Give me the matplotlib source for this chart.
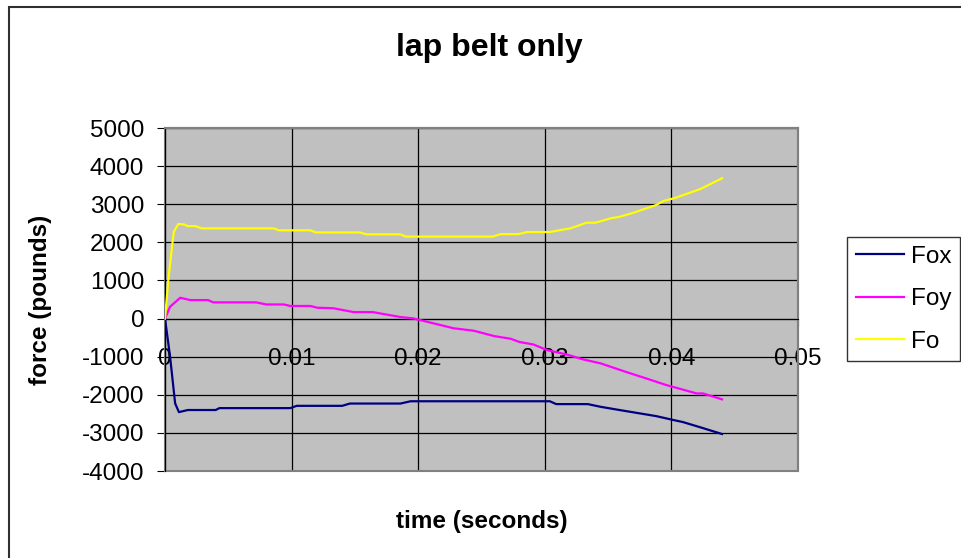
import matplotlib
matplotlib.use("Agg")
import matplotlib.pyplot as plt
from matplotlib.patches import Rectangle

# ======================================================
# DATA
# ======================================================

t_fox = [0, 0.0004, 0.0006, 0.0008, 0.0011, 0.0018, 0.0040, 0.0043, 0.0099, 0.0104,
         0.0140, 0.0146, 0.0186, 0.0194, 0.0304, 0.0309, 0.0334, 0.0344, 0.0359,
         0.0388, 0.0402, 0.0409, 0.0423, 0.0440]
fox = [0, -1000, -1610, -2225, -2455, -2400, -2400, -2350, -2350, -2290,
       -2290, -2230, -2230, -2170, -2170, -2245, -2245, -2315, -2400,
       -2560, -2665, -2715, -2855, -3030]

t_foy = [0, 0.0004, 0.0012, 0.0020, 0.0034, 0.0038, 0.0072, 0.0080, 0.0094, 0.0099,
         0.0115, 0.0120, 0.0133, 0.0149, 0.0164, 0.0186, 0.0196, 0.0212, 0.0228,
         0.0244, 0.0260, 0.0273, 0.0280, 0.0291, 0.0302, 0.0317, 0.0330, 0.0344,
         0.0365, 0.0380, 0.0396, 0.0420, 0.0425, 0.0440]
foy = [0, 310, 545, 485, 485, 425, 425, 370, 370, 330,
       330, 285, 270, 170, 170, 40, 5, -125, -255,
       -320, -460, -530, -615, -680, -830, -940, -1070, -1175,
       -1410, -1570, -1745, -1965, -1965, -2120]

t_fo = [0, 0.00026, 0.0006, 0.0007, 0.00105, 0.0015, 0.0018, 0.0024, 0.0029, 0.0086,
        0.0090, 0.0115, 0.0119, 0.0154, 0.0159, 0.0186, 0.0190, 0.0259, 0.0265,
        0.0279, 0.0286, 0.0304, 0.0312, 0.0320, 0.0333, 0.0340, 0.0352, 0.0359,
        0.0370, 0.0388, 0.0394, 0.0402, 0.0423, 0.0440]
fo = [0, 1010, 2015, 2280, 2480, 2470, 2425, 2425, 2365, 2365,
      2315, 2315, 2260, 2260, 2210, 2210, 2150, 2150, 2215,
      2215, 2270, 2270, 2320, 2365, 2515, 2515, 2630, 2670,
      2775, 2980, 3090, 3155, 3400, 3680]

x_ticks = [0, 0.01, 0.02, 0.03, 0.04, 0.05]
x_labels = ["0", "0.01", "0.02", "0.03", "0.04", "0.05"]
y_ticks = [5000, 4000, 3000, 2000, 1000, 0, -1000, -2000, -3000, -4000]

# ======================================================
# PLOT
# ======================================================

plt.rcParams["font.family"] = ["Liberation Sans", "DejaVu Sans"]
plt.rcParams["axes.unicode_minus"] = False

W, H = 961, 558
fig = plt.figure(figsize=(W / 100, H / 100), dpi=100)
ax = fig.add_axes([165 / W, 1 - 471 / H, (798 - 165) / W, (471 - 128) / H])
ax.set_facecolor("#C0C0C0")

ax.plot(t_fox, fox, color="#000080", lw=1.6, label="Fox", zorder=3)
ax.plot(t_foy, foy, color="#FF00FF", lw=1.6, label="Foy", zorder=3)
ax.plot(t_fo, fo, color="#FFFF00", lw=1.6, label="Fo", zorder=3)

ax.set_xlim(0, 0.05)
ax.set_ylim(-4000, 5000)
ax.set_xticks(x_ticks)
ax.set_xticklabels(x_labels)
ax.set_yticks(y_ticks)
ax.grid(True, color="black", lw=0.9)
ax.set_axisbelow(True)

# x axis crosses at y = 0, excel style
ax.spines["bottom"].set_position(("data", 0))
ax.spines["bottom"].set_color("black")
ax.spines["left"].set_color("black")
for s in ["top", "right"]:
    ax.spines[s].set_color("#808080")
    ax.spines[s].set_linewidth(1.5)
ax.add_patch(Rectangle((0, 0), 1, 1, transform=ax.transAxes, fill=False,
                       edgecolor="#808080", lw=1.5, zorder=1, clip_on=False))

ax.tick_params(axis="x", direction="out", length=5, pad=16, labelsize=17.5)
ax.tick_params(axis="y", direction="out", length=6, pad=9, labelsize=17.5)

ax.set_xlabel("time (seconds)", fontsize=17.5, fontweight="bold")
ax.xaxis.set_label_coords(0.5, -(510 - 471) / (471 - 128))
ax.set_ylabel("force (pounds)", fontsize=17.5, fontweight="bold")
ax.yaxis.set_label_coords(-(165 - 52) / (798 - 165), 0.5)

fig.text(489 / W, 1 - 48 / H, "lap belt only", fontsize=23, fontweight="bold",
         ha="center", va="center")

leg = ax.legend(loc="upper left", bbox_to_anchor=(847 / W, 1 - 237 / H),
                bbox_transform=fig.transFigure, fontsize=17.5, frameon=True,
                fancybox=False, borderaxespad=0, handlelength=2.0,
                handletextpad=0.3, labelspacing=0.85, borderpad=0.35)
leg.get_frame().set_edgecolor("black")
leg.get_frame().set_linewidth(1.0)

# outer chart frame (right and bottom edges fall outside the picture)
fig.add_artist(Rectangle((9 / W, -0.1), 1.2, 1 - 7 / H + 0.1, transform=fig.transFigure,
                         fill=False, edgecolor="#303030", lw=1.5))

fig.savefig("out.png", dpi=100)
